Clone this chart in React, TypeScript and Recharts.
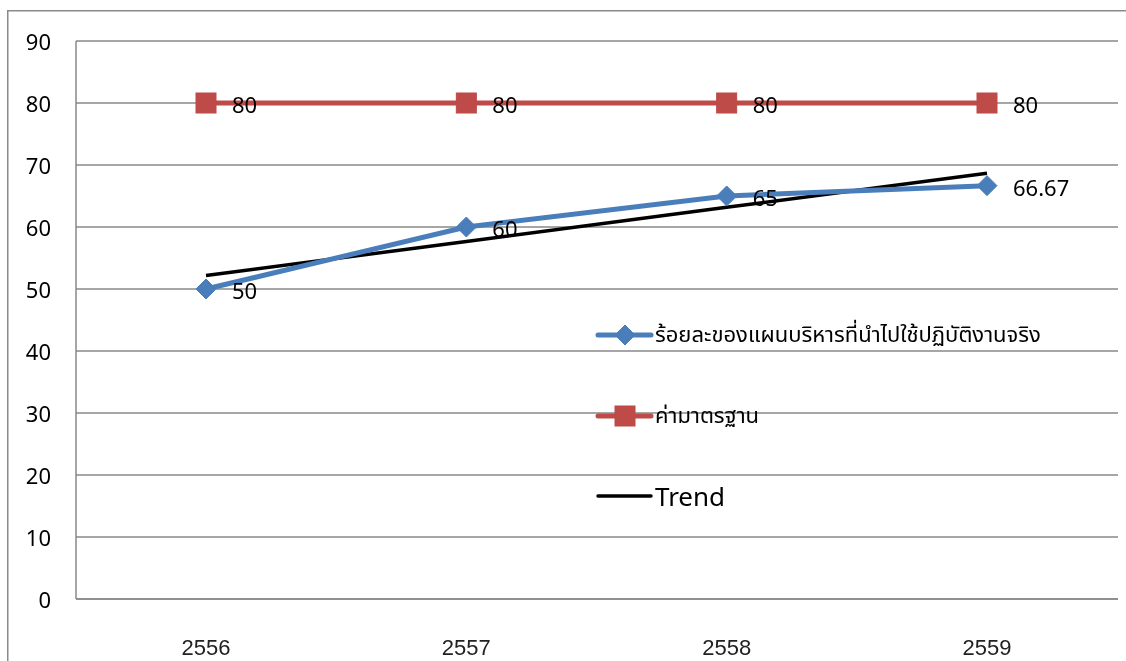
import React from "react";
import { LineChart, Line, XAxis, YAxis, CartesianGrid, LabelList } from "recharts";

const categories = ["2556", "2557", "2558", "2559"];
const actualValues = [50, 60, 65, 66.67];
const standardValues = [80, 80, 80, 80];
const trendValues = [52.17, 57.67, 63.17, 68.67];
const yTicks = [0, 10, 20, 30, 40, 50, 60, 70, 80, 90];

const seriesNames = {
  actual: "ร้อยละของแผนบริหารที่นำไปใช้ปฏิบัติงานจริง",
  standard: "ค่ามาตรฐาน",
  trend: "Trend",
};

const data = categories.map((c, i) => ({
  year: c,
  actual: actualValues[i],
  standard: standardValues[i],
  trend: trendValues[i],
}));

const BLUE = "#4A7EBB";
const RED = "#BE4B48";
const GRID = "#898989";
const LABEL_FONT = "'Noto Sans', 'DejaVu Sans', sans-serif";
const THAI_FONT = "'Noto Sans Thai', 'Noto Sans', 'DejaVu Sans', sans-serif";

const Diamond = (props: any) => {
  const { cx, cy } = props;
  if (cx == null || cy == null) return null;
  const r = 10;
  return (
    <polygon
      points={`${cx},${cy - r} ${cx + r},${cy} ${cx},${cy + r} ${cx - r},${cy}`}
      fill={BLUE}
      stroke={BLUE}
      strokeWidth={1}
    />
  );
};

const Square = (props: any) => {
  const { cx, cy } = props;
  if (cx == null || cy == null) return null;
  const r = 10;
  return <rect x={cx - r} y={cy - r} width={2 * r} height={2 * r} fill={RED} stroke={RED} strokeWidth={1} />;
};

const XTick = (props: any) => {
  const { x, payload } = props;
  return (
    <text x={x} y={647} textAnchor="middle" dominantBaseline="central" fontSize={22} fill="#222" fontFamily="'Liberation Sans', Arial, sans-serif">
      {payload.value}
    </text>
  );
};

const YTick = (props: any) => {
  const { y, payload } = props;
  return (
    <text x={51} y={y} textAnchor="end" dominantBaseline="central" fontSize={22} fill="#000" fontFamily={LABEL_FONT}>
      {payload.value}
    </text>
  );
};

const DataLabel = (props: any) => {
  const { x, y, value } = props;
  return (
    <text x={x + 26} y={y + 1} textAnchor="start" dominantBaseline="central" fontSize={22} fill="#000" fontFamily={LABEL_FONT}>
      {value}
    </text>
  );
};

const legendItems = [
  { name: seriesNames.actual, color: BLUE, marker: "diamond", cy: 335, font: THAI_FONT, size: 22 },
  { name: seriesNames.standard, color: RED, marker: "square", cy: 416, font: THAI_FONT, size: 22 },
  { name: seriesNames.trend, color: "#000", marker: "none", cy: 496, font: LABEL_FONT, size: 26 },
];

const Overlay = () => (
  <svg width={1126} height={661} style={{ position: "absolute", left: 0, top: 0, pointerEvents: "none" }}>
    <rect x={7} y={10} width={1.5} height={651} fill="#8a8a8a" />
    <rect x={7} y={10} width={1119} height={1.5} fill="#8a8a8a" />
    {legendItems.map((it) => (
      <g key={it.name}>
        <line x1={598} x2={651} y1={it.cy} y2={it.cy} stroke={it.color} strokeWidth={it.marker === "none" ? 3.5 : 5} strokeLinecap="round" />
        {it.marker === "diamond" && <Diamond cx={625} cy={it.cy} />}
        {it.marker === "square" && <Square cx={625} cy={it.cy} />}
        <text x={655} y={it.cy} dominantBaseline="central" fontSize={it.size} fontFamily={it.font} fill="#000">
          {it.name}
        </text>
      </g>
    ))}
  </svg>
);

export default function App() {
  return (
    <div style={{ position: "fixed", left: 0, top: 0, width: 1126, height: 661, overflow: "hidden" }}>
      <div style={{ position: "absolute", left: 0, top: 0 }}>
        <LineChart width={1126} height={661} data={data} margin={{ top: 41, right: 8, bottom: 0, left: 16 }}>
          <CartesianGrid vertical={false} stroke={GRID} strokeWidth={1.3} horizontalValues={yTicks} />
          <XAxis
            dataKey="year"
            height={62}
            tickLine={false}
            axisLine={{ stroke: GRID, strokeWidth: 1.5 }}
            tick={<XTick />}
            interval={0}
            padding={{ left: 130, right: 131 }}
          />
          <YAxis
            width={60}
            domain={[0, 90]}
            ticks={yTicks}
            tickLine={false}
            axisLine={{ stroke: GRID, strokeWidth: 1.5 }}
            tick={<YTick />}
            interval={0}
          />
          <Line
            dataKey="standard"
            name={seriesNames.standard}
            stroke={RED}
            strokeWidth={5}
            dot={<Square />}
            activeDot={false}
            isAnimationActive={false}
          >
            <LabelList dataKey="standard" content={<DataLabel />} />
          </Line>
          <Line
            dataKey="trend"
            name={seriesNames.trend}
            stroke="#000"
            strokeWidth={3.5}
            dot={false}
            activeDot={false}
            isAnimationActive={false}
          />
          <Line
            dataKey="actual"
            name={seriesNames.actual}
            stroke={BLUE}
            strokeWidth={5}
            dot={<Diamond />}
            activeDot={false}
            isAnimationActive={false}
          >
            <LabelList dataKey="actual" content={<DataLabel />} />
          </Line>
        </LineChart>
      </div>
      <Overlay />
    </div>
  );
}
